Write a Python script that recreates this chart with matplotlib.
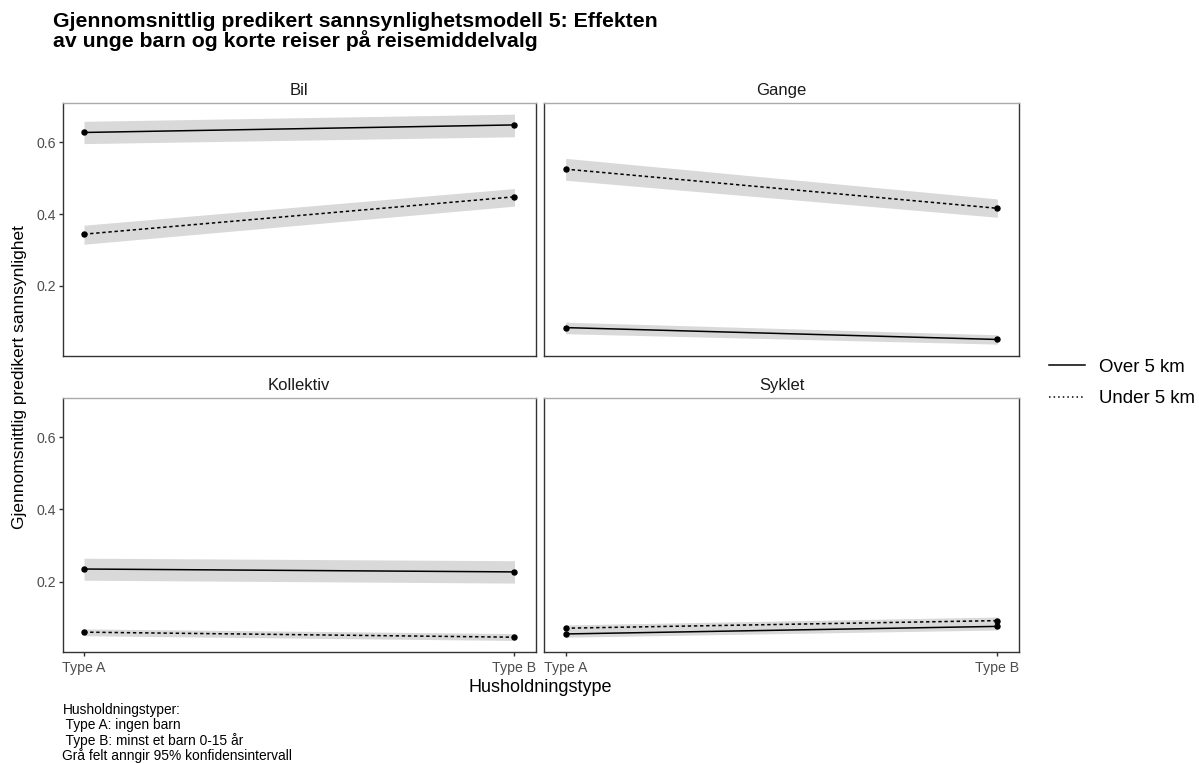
import matplotlib
matplotlib.use("Agg")
import matplotlib.pyplot as plt
from matplotlib.lines import Line2D
import numpy as np

plt.rcParams['font.family'] = ['Liberation Sans', 'DejaVu Sans']

# predicted probabilities per travel mode, household type A / B
x_labels = ["Type A", "Type B"]
modes = ["Bil", "Gange", "Kollektiv", "Syklet"]

over_fit = {"Bil": [0.627, 0.648], "Gange": [0.084, 0.051],
            "Kollektiv": [0.235, 0.227], "Syklet": [0.055, 0.076]}
over_lo = {"Bil": [0.596, 0.615], "Gange": [0.067, 0.038],
           "Kollektiv": [0.204, 0.196], "Syklet": [0.046, 0.066]}
over_hi = {"Bil": [0.658, 0.678], "Gange": [0.099, 0.064],
           "Kollektiv": [0.265, 0.258], "Syklet": [0.064, 0.086]}

under_fit = {"Bil": [0.344, 0.448], "Gange": [0.525, 0.416],
             "Kollektiv": [0.060, 0.046], "Syklet": [0.071, 0.092]}
under_lo = {"Bil": [0.316, 0.422], "Gange": [0.494, 0.391],
            "Kollektiv": [0.050, 0.037], "Syklet": [0.062, 0.082]}
under_hi = {"Bil": [0.369, 0.471], "Gange": [0.555, 0.442],
            "Kollektiv": [0.069, 0.056], "Syklet": [0.080, 0.102]}

W, H = 1199, 763
fig = plt.figure(figsize=(W / 100, H / 100), dpi=100)


def px_axes(x0, y0, x1, y1):
    # axes from pixel box (top-left origin)
    return fig.add_axes([x0 / W, 1 - y1 / H, (x1 - x0) / W, (y1 - y0) / H])


boxes = [(62.5, 103, 536, 356), (544, 103, 1019, 356),
         (62.5, 398, 536, 652), (544, 398, 1019, 652)]

DOT = (0, (2.2, 1.8))
xs = np.array([1, 2])
band_col = "#d9d9d9"

for i, (mode, box) in enumerate(zip(modes, boxes)):
    ax = px_axes(*box)
    ax.fill_between(xs, over_lo[mode], over_hi[mode], color=band_col, lw=0, zorder=1)
    ax.fill_between(xs, under_lo[mode], under_hi[mode], color=band_col, lw=0, zorder=1)
    ax.plot(xs, over_fit[mode], color="black", lw=1.1, zorder=3)
    ax.plot(xs, under_fit[mode], color="black", lw=1.1, linestyle=DOT, zorder=3)
    ax.plot(xs, over_fit[mode], "o", color="black", ms=3.6, zorder=4)
    ax.plot(xs, under_fit[mode], "o", color="black", ms=3.6, zorder=4)

    ax.set_xlim(0.95, 2.05)
    ax.set_ylim(0.005, 0.709)
    ax.set_title(mode, fontsize=12, pad=6, color="#1a1a1a")

    for side in ["left", "bottom", "right"]:
        ax.spines[side].set_color("#333333")
        ax.spines[side].set_linewidth(1.0)
    ax.spines["top"].set_color("#aaaaaa")
    ax.spines["top"].set_linewidth(1.0)

    ax.set_xticks(xs)
    ax.set_yticks([0.2, 0.4, 0.6])
    ax.tick_params(length=3, width=1, color="#333333", labelcolor="#4d4d4d",
                   labelsize=10.2, pad=2)
    ax.tick_params(axis="x", pad=3.5)
    if i < 2:
        ax.tick_params(axis="x", bottom=False, labelbottom=False)
    else:
        ax.set_xticklabels(x_labels)
    if i % 2 == 1:
        ax.tick_params(axis="y", left=False, labelleft=False)

fig.text(53 / W, 1 - 12 / H,
         "Gjennomsnittlig predikert sannsynlighetsmodell 5: Effekten\n"
         "av unge barn og korte reiser på reisemiddelvalg",
         fontsize=15.3, fontweight="bold", va="top", ha="left",
         linespacing=0.93)

fig.text(20 / W, 1 - 377 / H, "Gjennomsnittlig predikert sannsynlighet",
         rotation=90, fontsize=12.5, ha="center", va="center")
fig.text(540 / W, 1 - 688 / H, "Husholdningstype", fontsize=13,
         ha="center", va="center")

fig.text(62.5 / W, 1 - 703 / H,
         "Husholdningstyper:\n Type A: ingen barn\n Type B: minst et barn 0-15 år\n"
         "Grå felt anngir 95% konfidensintervall",
         fontsize=9.9, ha="left", va="top", linespacing=1.07)

handles = [Line2D([], [], color="black", lw=1.1),
           Line2D([], [], color="black", lw=1.1, linestyle=(0, (1, 2)))]
fig.legend(handles, ["Over 5 km", "Under 5 km"], loc="center left",
           bbox_to_anchor=(1049 / W, 1 - 383 / H), frameon=False,
           fontsize=13.4, handlelength=1.94, handletextpad=0.75,
           labelspacing=0.8, borderpad=0, borderaxespad=0)

fig.savefig("out.png", dpi=100)
